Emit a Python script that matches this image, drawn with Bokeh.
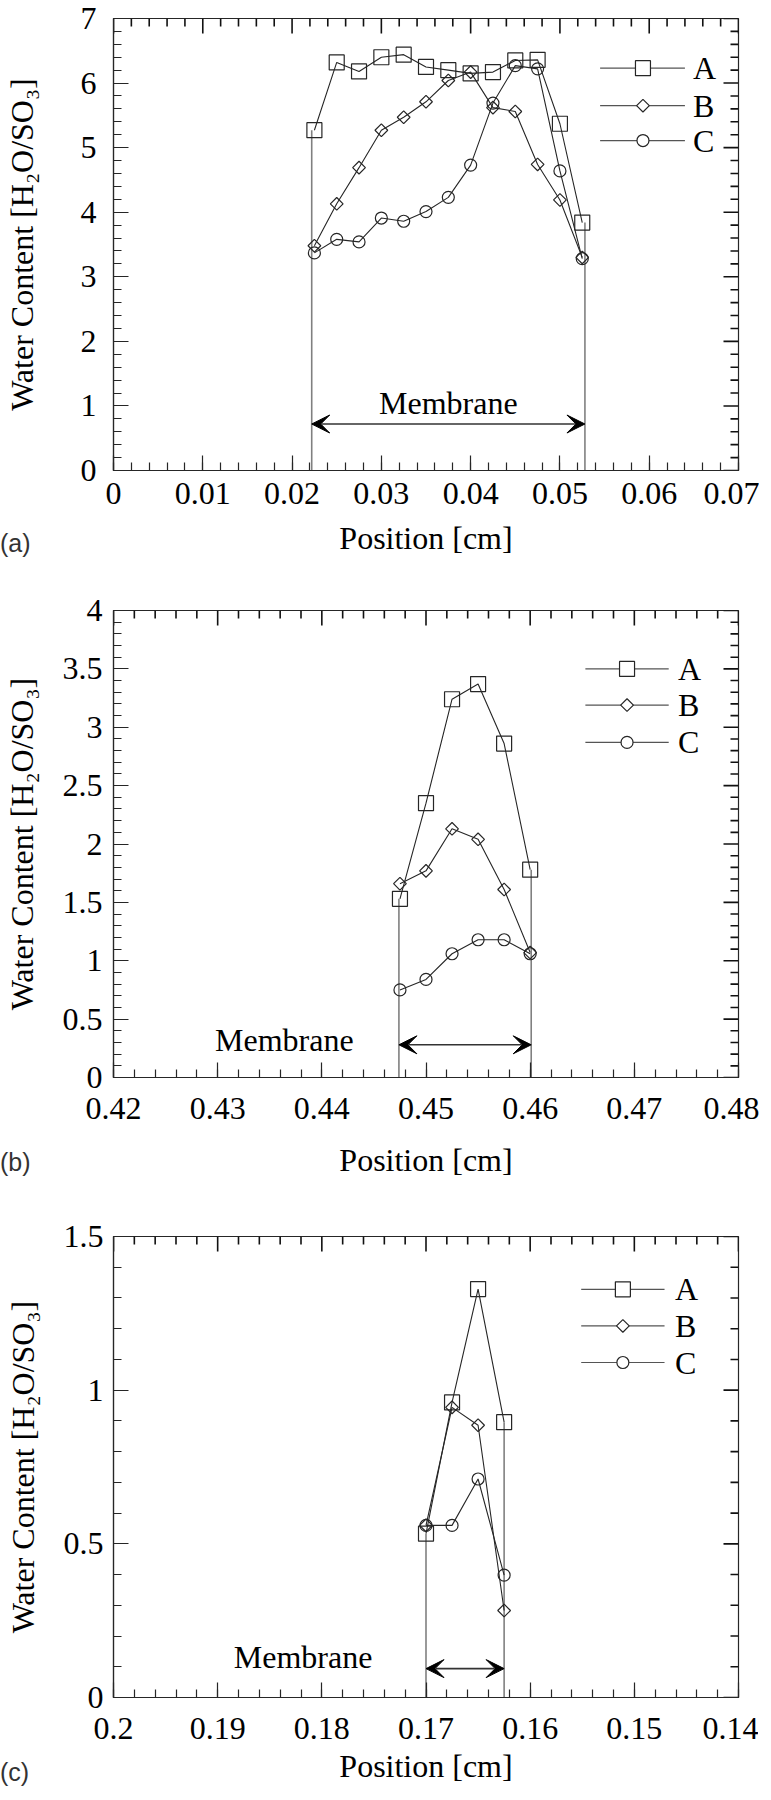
import numpy as np
from bokeh.plotting import figure
from bokeh.models import (LinearAxis, SingleIntervalTicker, CustomJSTickFormatter,
                          Arrow, VeeHead, Range1d, Div)
from bokeh.layouts import column
from bokeh.core.properties import value
from bokeh.embed import file_html
from bokeh.resources import INLINE

SERIES = ["A", "B", "C"]
X_LABEL = "Position [cm]"
Y_LABEL = "Water Content [H\u2082O/SO\u2083]"
MEMBRANE = "Membrane"
TAGS = ["(a)", "(b)", "(c)"]

# ---------------- panel (a) ----------------
a_x = [0.0225, 0.0250, 0.0275, 0.0300, 0.0325, 0.0350, 0.0375,
       0.0400, 0.0425, 0.0450, 0.0475, 0.0500, 0.0525]
a_A = [5.27, 6.32, 6.18, 6.40, 6.44, 6.25, 6.20, 6.15, 6.17, 6.35, 6.36, 5.37, 3.84]
a_B = [3.48, 4.13, 4.69, 5.27, 5.47, 5.71, 6.04, 6.17, 5.62, 5.56, 4.74, 4.19, 3.30]
a_C = [3.37, 3.58, 3.54, 3.91, 3.86, 4.01, 4.23, 4.73, 5.69, 6.27, 6.22, 4.64, 3.28]
a_membrane = [0.0222, 0.0528]

# ---------------- panel (b) ----------------
b_x = [0.4475, 0.4500, 0.4525, 0.4550, 0.4575, 0.4600]
b_A = [1.53, 2.35, 3.24, 3.37, 2.86, 1.78]
b_B = [1.66, 1.77, 2.13, 2.04, 1.61, 1.07]
b_C = [0.75, 0.84, 1.06, 1.18, 1.18, 1.06]
b_membrane = [0.4474, 0.4601]

# ---------------- panel (c) ----------------
c_x = [0.1700, 0.1675, 0.1650, 0.1625]
c_A = [0.533, 0.960, 1.329, 0.896]
c_B = [0.560, 0.944, 0.886, 0.283]
c_C = [0.560, 0.560, 0.711, 0.398]
c_membrane = [0.1700, 0.1625]

FONT = "Liberation Serif"
INK = "#262626"
TICK_INK = "#111111"
GREY = "#808080"
FRAME_W = 625
FIG_W = 755
MAJOR_LEN = 15
MINOR_LEN = 8

fmt_code = r"return tick.toFixed(2).replace(/\.?0+$/, '');"


def style_axis(ax, ticker):
    ax.ticker = ticker
    ax.formatter = CustomJSTickFormatter(code=fmt_code)
    ax.axis_line_color = INK
    ax.axis_line_width = 1.2
    ax.major_tick_line_color = INK
    ax.minor_tick_line_color = INK
    ax.major_tick_line_width = 1.2
    ax.minor_tick_line_width = 1.2
    ax.major_tick_in = MAJOR_LEN
    ax.major_tick_out = 0
    ax.minor_tick_in = MINOR_LEN
    ax.minor_tick_out = 0
    ax.major_label_text_font = FONT
    ax.major_label_text_color = "black"
    ax.major_label_text_font_size = "32px"
    ax.axis_label_text_font = FONT
    ax.axis_label_text_font_style = "normal"
    ax.axis_label_text_color = "black"
    ax.axis_label_text_font_size = "32px"


def tick_positions(lo, hi, step):
    n = int(round((hi - lo) / step))
    vals = [lo + i * step for i in range(n + 1)]
    lens = [MAJOR_LEN if i % 5 == 0 else MINOR_LEN for i in range(n + 1)]
    return vals, lens


def make_panel(xr, yr, xint, yint, xs, ys, membrane, arrow_y, mem_text,
               leg, frame_h, border_top, border_bottom,
               xtick_sd, xlab_sd, ytick_sd, ylab_sd):
    p = figure(frame_width=FRAME_W, frame_height=frame_h,
               x_range=Range1d(*xr), y_range=Range1d(*yr),
               min_border_left=109, min_border_right=FIG_W - 109 - FRAME_W,
               min_border_top=border_top, min_border_bottom=border_bottom,
               output_backend="svg", toolbar_location=None,
               x_axis_location=None, y_axis_location=None)
    p.grid.visible = False
    p.outline_line_color = INK
    p.outline_line_width = 1.2
    p.background_fill_color = "white"
    p.border_fill_color = "white"

    xb = LinearAxis(axis_label=X_LABEL)
    style_axis(xb, SingleIntervalTicker(interval=xint, num_minor_ticks=5))
    xb.major_label_standoff = xtick_sd
    xb.axis_label_standoff = xlab_sd
    p.add_layout(xb, "below")

    yl = LinearAxis(axis_label=Y_LABEL)
    style_axis(yl, SingleIntervalTicker(interval=yint, num_minor_ticks=5))
    yl.major_label_standoff = ytick_sd
    yl.axis_label_standoff = ylab_sd
    p.add_layout(yl, "left")

    # mirrored inward ticks on the top and right edges (15 px major, 8 px minor)
    dx_px = (xr[1] - xr[0]) / FRAME_W
    dy_px = (yr[1] - yr[0]) / frame_h
    tx, tl = tick_positions(min(xr), max(xr), xint / 5)
    p.segment(x0=tx, y0=[yr[1]] * len(tx), x1=tx,
              y1=[yr[1] - L * dy_px for L in tl],
              line_color=TICK_INK, line_width=1.6)
    ty, tyl = tick_positions(yr[0], yr[1], yint / 5)
    p.segment(x0=[xr[1]] * len(ty), y0=ty,
              x1=[xr[1] - L * dx_px for L in tyl], y1=ty,
              line_color=TICK_INK, line_width=1.6)

    # membrane boundaries
    p.segment(x0=membrane, y0=[0, 0], x1=membrane, y1=[ys[0][0], ys[0][-1]],
              line_color=GREY, line_width=1.6)
    p.add_layout(Arrow(start=VeeHead(size=18, fill_color="black", line_color="black"),
                       end=VeeHead(size=18, fill_color="black", line_color="black"),
                       x_start=membrane[0], x_end=membrane[1],
                       y_start=arrow_y, y_end=arrow_y,
                       line_color="#333333", line_width=1.6))
    p.text(x=[mem_text[0]], y=[mem_text[1]], text=[MEMBRANE],
           text_font=value(FONT), text_font_size="32px",
           text_align="center", text_baseline="middle", text_color="black")

    markers = [dict(marker="square", size=15, angle=0.0),
               dict(marker="square", size=9, angle=np.pi / 4),
               dict(marker="circle", size=12, angle=0.0)]
    for name, y, mk in zip(SERIES, ys, markers):
        p.line(xs, y, line_color=INK, line_width=1.1)
        p.scatter(xs, y, marker=mk["marker"], size=mk["size"], angle=mk["angle"],
                  fill_color=None, line_color=INK, line_width=1.2)

    # legend
    lx0, lx1, lxm, ltx, lrows = leg
    for name, ly, mk in zip(SERIES, lrows, markers):
        p.line([lx0, lx1], [ly, ly], line_color="#555555", line_width=1.2)
        p.scatter([lxm], [ly], marker=mk["marker"], size=mk["size"], angle=mk["angle"],
                  fill_color="white", line_color=INK, line_width=1.2)
        p.text(x=[ltx], y=[ly], text=[name], text_font=value(FONT),
               text_font_size="32px", text_align="left", text_baseline="middle",
               text_color="black")
    return p


def tag_div(text, top_shift, bottom_pad):
    # zero net height: overlaps the bottom border of the figure above it
    return Div(text=text, width=44, height=28,
               margin=(top_shift, 0, bottom_pad, 0),
               styles={"font-family": "Liberation Sans", "font-size": "25px",
                       "line-height": "28px", "color": "#333333",
                       "position": "relative", "z-index": "10"})


pa = make_panel((0, 0.07), (0, 7), 0.01, 1, a_x, [a_A, a_B, a_C],
                a_membrane, 0.72, (0.0375, 1.05),
                (0.0545, 0.0640, 0.0593, 0.0649, [6.23, 5.65, 5.11]),
                452, 18, 92, 12, 13, 17, 38)
pb = make_panel((0.42, 0.48), (0, 4), 0.01, 0.5, b_x, [b_A, b_B, b_C],
                b_membrane, 0.28, (0.4364, 0.325),
                (0.4653, 0.4733, 0.4693, 0.4742, [3.50, 3.19, 2.87]),
                467, 48, 111, 20, 20, 11, 20)
pc = make_panel((0.2, 0.14), (0, 1.5), 0.01, 0.5, c_x, [c_A, c_B, c_C],
                c_membrane, 0.094, (0.1818, 0.132),
                (0.1551, 0.1471, 0.1511, 0.1461, [1.328, 1.209, 1.090]),
                461, 48, 87, 20, 6, 10, 20)

layout = column(pa, tag_div(TAGS[0], -33, 5),
                pb, tag_div(TAGS[1], -40, 12),
                pc, tag_div(TAGS[2], -28, 0), spacing=0)
open("out.html", "w").write(file_html(layout, INLINE))
